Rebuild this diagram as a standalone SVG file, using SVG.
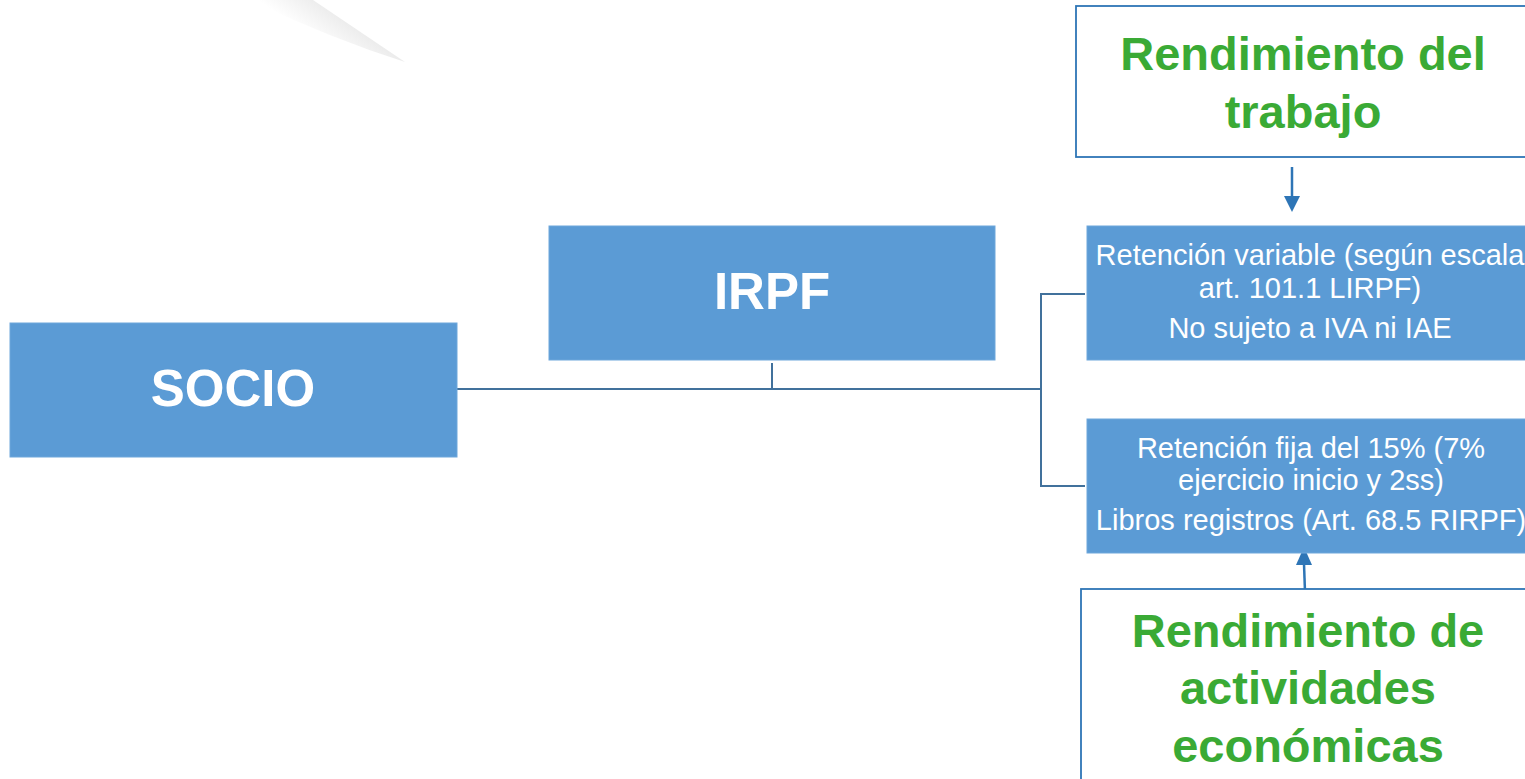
<svg xmlns="http://www.w3.org/2000/svg" width="1525" height="779" viewBox="0 0 1525 779">
<style>
.box{fill:#5b9bd5;stroke:#6fa7db;stroke-width:1}
.frame{fill:#ffffff;stroke:#2e75b6;stroke-width:1.8}
.big{font-family:"Liberation Sans",Arial,sans-serif;font-weight:bold;fill:#ffffff;text-anchor:middle;font-size:51px}
.small{font-family:"Liberation Sans",Arial,sans-serif;fill:#ffffff;text-anchor:middle;font-size:29px}
.green{font-family:"Liberation Sans",Arial,sans-serif;font-weight:bold;fill:#3aaa35;text-anchor:middle;font-size:47px}
.conn{fill:none;stroke:#41719c;stroke-width:2}
</style>
<defs>
<linearGradient id="shade" gradientUnits="userSpaceOnUse" x1="345" y1="20" x2="325" y2="48">
<stop offset="0" stop-color="#ececec"/>
<stop offset="1" stop-color="#ffffff"/>
</linearGradient>
</defs>
<rect width="1525" height="779" fill="#ffffff"/>
<path d="M250,0 L313,0 L405,62 Q330,38 250,0 z" fill="url(#shade)"/>
<g id="connectors">
<path class="conn" d="M457,389 H1041"/>
<path class="conn" d="M772,363 V389"/>
<path class="conn" d="M1085,294 H1041 V486 H1085"/>
<line x1="1292" y1="167" x2="1292" y2="197" stroke="#2e75b6" stroke-width="2.5"/>
<path d="M1284,196 L1300,196 L1292,212 z" fill="#2e75b6"/>
<line x1="1305" y1="592" x2="1304" y2="564" stroke="#2e75b6" stroke-width="2.5"/>
<path d="M1296,565 L1312,565 L1304,547 z" fill="#2e75b6"/>
</g>
<g id="socio">
<rect class="box" x="10" y="323" width="447" height="134"/>
<text class="big" x="233" y="406">SOCIO</text>
</g>
<g id="irpf">
<rect class="box" x="549" y="226" width="446" height="134"/>
<text class="big" x="772" y="309">IRPF</text>
</g>
<g id="ret-variable">
<rect class="box" x="1087" y="226" width="450" height="134"/>
<text class="small" x="1310" y="265">Retención variable (según escala</text>
<text class="small" x="1310" y="298">art. 101.1 LIRPF)</text>
<text class="small" x="1310" y="338">No sujeto a IVA ni IAE</text>
</g>
<g id="ret-fija">
<rect class="box" x="1087" y="419" width="450" height="134"/>
<text class="small" x="1311" y="458">Retención fija del 15% (7%</text>
<text class="small" x="1311" y="490">ejercicio inicio y 2ss)</text>
<text class="small" x="1311" y="530">Libros registros (Art. 68.5 RIRPF)</text>
</g>
<g id="rend-trabajo">
<rect class="frame" x="1076" y="6" width="460" height="151"/>
<text class="green" x="1303" y="70">Rendimiento del</text>
<text class="green" x="1303" y="128">trabajo</text>
</g>
<g id="rend-actividades">
<rect class="frame" x="1081" y="589" width="460" height="200"/>
<text class="green" x="1308" y="647">Rendimiento de</text>
<text class="green" x="1308" y="704">actividades</text>
<text class="green" x="1308" y="762">económicas</text>
</g>
</svg>
